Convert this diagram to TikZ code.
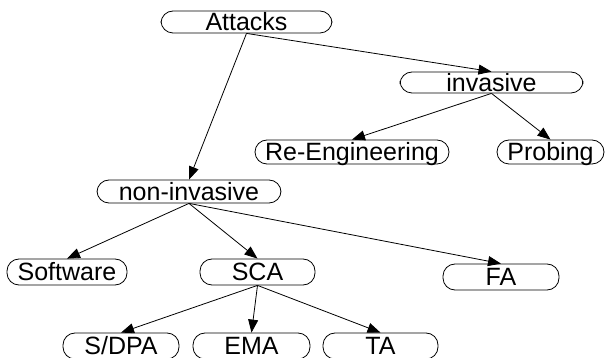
\documentclass[tikz,border=0pt]{standalone}
\usepackage{fontspec}
\setmainfont{Liberation Sans}
\usetikzlibrary{arrows.meta}

\begin{document}
\begin{tikzpicture}[x=1pt, y=-1pt,
    box/.style={draw, line width=0.8pt, rounded corners=12pt, inner sep=0pt,
      minimum height=#1, text height=17.5pt, text depth=0pt,
      font=\fontsize{25}{25}\selectfont},
    box/.default=26pt,
    >={Triangle[length=13pt, width=10pt]}]
  % page
  \useasboundingbox (0,0) rectangle (608,358);
  \clip (0,0) rectangle (608,358);
  % root and first level
  \node[box=22pt, minimum width=171pt] (attacks) at (246.5,22) {Attacks};
  \node[box=21pt, minimum width=183pt] (inv) at (491.5,82.5) {invasive};
  \node[box=23pt, minimum width=184pt] (noninv) at (189,191.5) {non-invasive};
  % invasive branch
  \node[box=24pt, minimum width=194pt] (reeng) at (352,152) {Re-Engineering};
  \node[box=24pt, minimum width=107pt] (probing) at (550.5,152) {Probing};
  % non-invasive branch
  \node[box, minimum width=120pt] (software) at (67,272) {Software};
  \node[box, minimum width=115pt] (sca) at (257.5,272) {SCA};
  \node[box, minimum width=116pt] (fa) at (501,277) {FA};
  % side channel leaves
  \node[box, minimum width=116pt] (sdpa) at (121,346) {S/DPA};
  \node[box, minimum width=117pt] (ema) at (251.5,346) {EMA};
  \node[box, minimum width=115pt] (ta) at (380.5,346) {TA};
  % edges
  \foreach \a/\b in {attacks/noninv, attacks/inv, inv/reeng, inv/probing,
                     noninv/software, noninv/sca, noninv/fa,
                     sca/sdpa, sca/ema, sca/ta} {
    \draw[->, line width=0.8pt] (\a.south) -- (\b.north);
  }
\end{tikzpicture}
\end{document}
